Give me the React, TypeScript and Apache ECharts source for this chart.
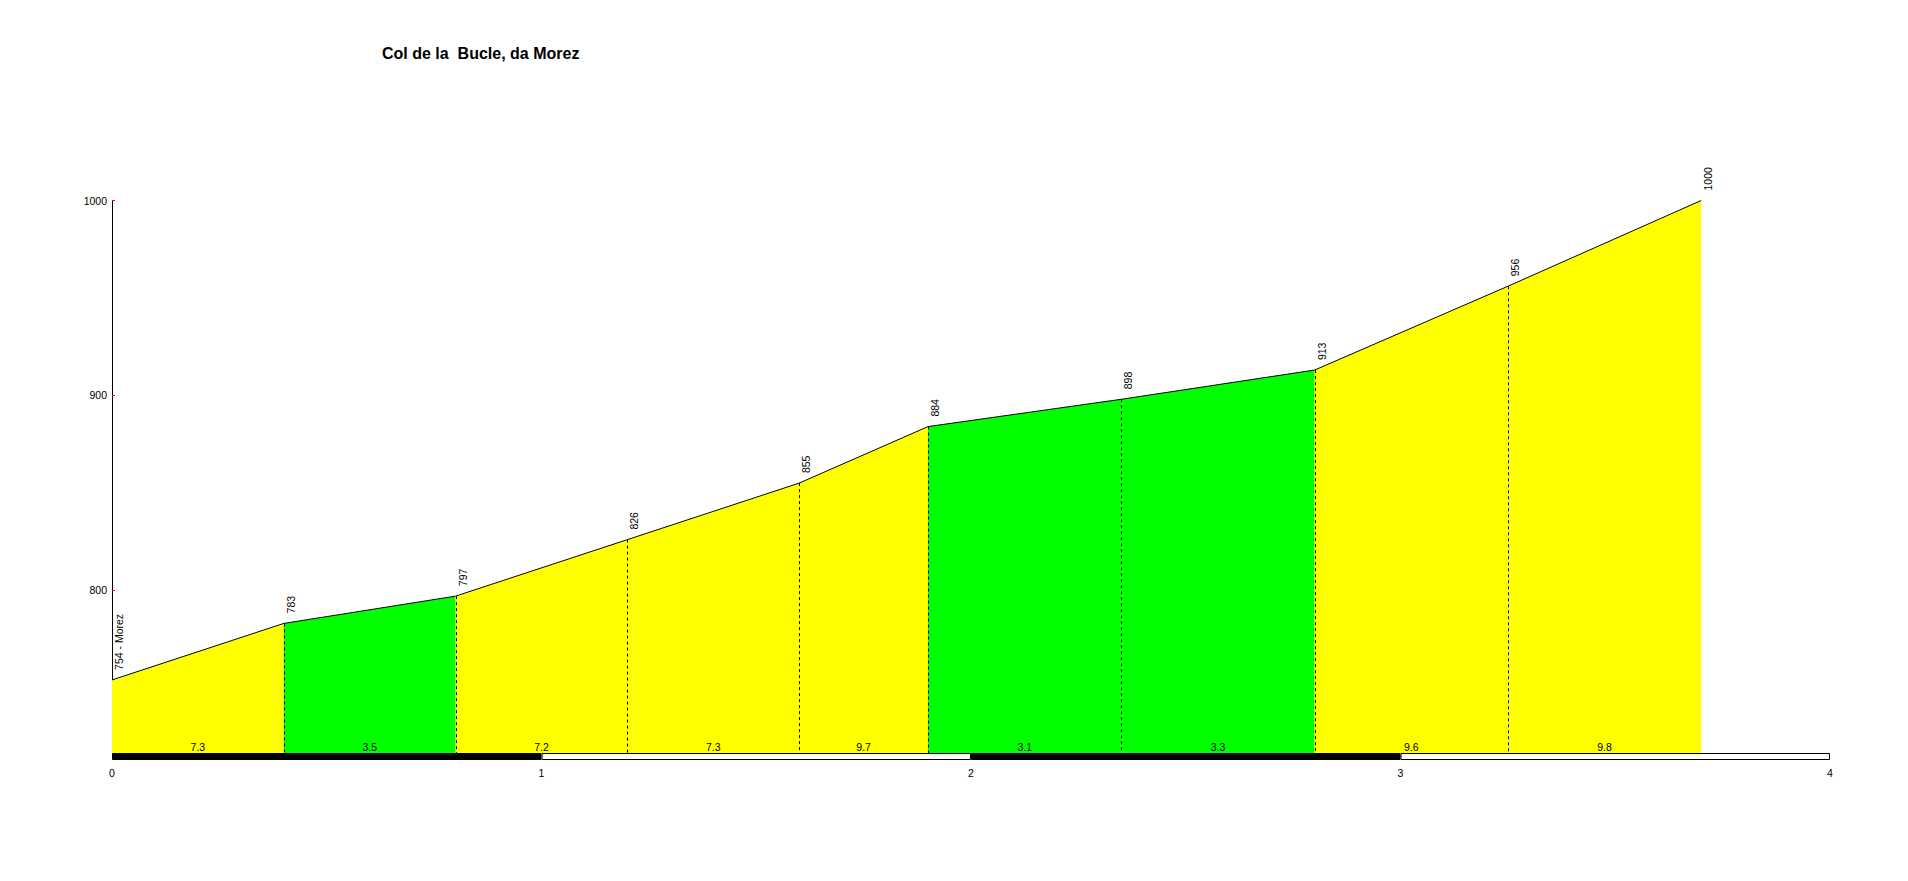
import React, { useEffect, useRef } from 'react';
import * as echarts from 'echarts';

const TITLE = 'Col de la  Bucle, da Morez';
const START_NAME = 'Morez';
const distances = [0, 0.4, 0.8, 1.2, 1.6, 1.9, 2.35, 2.8, 3.25, 3.7];
const altitudes = [754, 783, 797, 826, 855, 884, 898, 913, 956, 1000];
const gradients = ['7.3', '3.5', '7.2', '7.3', '9.7', '3.1', '3.3', '9.6', '9.8'];
const segmentColors = ['#ffff00', '#00ff00', '#ffff00', '#ffff00', '#ffff00', '#00ff00', '#00ff00', '#ffff00', '#ffff00'];
const xTickLabels = [0, 1, 2, 3, 4];
const yTickValues = [800, 900, 1000];
const kmBarColors = ['#000000', '#ffffff', '#000000', '#ffffff'];
const Y_MIN = 716;
const Y_MAX = 1000;

const FONT = 'Arial, "Liberation Sans", sans-serif';

export default function App() {
  const ref = useRef<HTMLDivElement>(null);
  useEffect(() => {
    if (!ref.current) return;
    const chart = echarts.init(ref.current, undefined, { renderer: 'svg' });

    const segData = gradients.map((g, i) => [distances[i], altitudes[i], distances[i + 1], altitudes[i + 1], i]);
    const kmData = kmBarColors.map((c, i) => [xTickLabels[i], xTickLabels[i + 1], i]);
    const pointData = distances.map((d, i) => [d, altitudes[i], i]);
    const innerPoints = pointData.slice(1, pointData.length - 1);

    const option: any = {
      animation: false,
      backgroundColor: '#ffffff',
      title: {
        text: TITLE,
        left: 377,
        top: 40,
        textStyle: { fontFamily: FONT, fontSize: 16, fontWeight: 'bold', color: '#000' },
      },
      grid: { left: 112, right: 78, top: 200.5, bottom: 127, containLabel: false },
      xAxis: {
        type: 'value',
        min: 0,
        max: 4,
        interval: 1,
        axisLine: { show: false },
        axisTick: { show: false },
        splitLine: { show: false },
        axisLabel: { fontFamily: FONT, fontSize: 10.5, color: '#000', margin: 13 },
      },
      yAxis: {
        type: 'value',
        min: Y_MIN,
        max: Y_MAX,
        axisLine: { show: true, lineStyle: { color: '#000', width: 1 } },
        axisTick: { show: true, inside: true, length: 3, customValues: yTickValues, lineStyle: { color: '#ff0000' } },
        axisLabel: {
          fontFamily: FONT,
          fontSize: 10.5,
          color: '#000',
          margin: 5,
          customValues: yTickValues,
          formatter: (v: number) => String(v),
        },
        splitLine: { show: false },
      },
      series: [
        {
          type: 'custom',
          z: 1,
          clip: false,
          data: segData,
          encode: { x: [0, 2], y: [1, 3] },
          renderItem: (params: any, api: any) => {
            const i = api.value(4);
            const a = api.coord([api.value(0), api.value(1)]);
            const b = api.coord([api.value(2), api.value(3)]);
            const a0 = api.coord([api.value(0), Y_MIN]);
            const b0 = api.coord([api.value(2), Y_MIN]);
            return {
              type: 'group',
              children: [
                {
                  type: 'polygon',
                  shape: { points: [a, b, b0, a0] },
                  style: { fill: segmentColors[i], stroke: null },
                },
                {
                  type: 'text',
                  x: (a0[0] + b0[0]) / 2,
                  y: a0[1] - 7,
                  style: {
                    text: gradients[i],
                    fill: '#000',
                    font: `10.5px ${FONT}`,
                    align: 'center',
                    verticalAlign: 'middle',
                  },
                },
              ],
            };
          },
        },
        {
          type: 'custom',
          z: 2,
          clip: false,
          data: innerPoints,
          encode: { x: 0, y: 1 },
          renderItem: (params: any, api: any) => {
            const p = api.coord([api.value(0), api.value(1)]);
            const p0 = api.coord([api.value(0), Y_MIN]);
            const lx = Math.round(p[0]) + 0.5;
            return {
              type: 'line',
              shape: { x1: lx, y1: p[1], x2: lx, y2: p0[1] },
              style: { stroke: '#000', lineWidth: 1, lineDash: [3, 3] },
            };
          },
        },
        {
          type: 'line',
          z: 3,
          data: distances.map((d, i) => [d, altitudes[i]]),
          symbol: 'none',
          lineStyle: { color: '#000', width: 1 },
        },
        {
          type: 'custom',
          z: 4,
          clip: false,
          data: pointData,
          encode: { x: 0, y: 1 },
          renderItem: (params: any, api: any) => {
            const i = api.value(2);
            const p = api.coord([api.value(0), api.value(1)]);
            const txt = i === 0 ? `${altitudes[i]} - ${START_NAME}` : String(altitudes[i]);
            return {
              type: 'text',
              x: p[0] + 7,
              y: p[1] - 10,
              rotation: Math.PI / 2,
              style: {
                text: txt,
                fill: '#000',
                font: `10.5px ${FONT}`,
                align: 'left',
                verticalAlign: 'middle',
              },
            };
          },
        },
        {
          type: 'custom',
          z: 5,
          clip: false,
          data: kmData,
          encode: { x: [0, 1] },
          renderItem: (params: any, api: any) => {
            const i = api.value(2);
            const a = api.coord([api.value(0), Y_MIN]);
            const b = api.coord([api.value(1), Y_MIN]);
            return {
              type: 'rect',
              shape: { x: a[0] + 0.5, y: a[1] - 0.5, width: b[0] - a[0] - 1, height: 6 },
              style: { fill: kmBarColors[i], stroke: '#000', lineWidth: 1 },
            };
          },
        },
      ],
    };
    chart.setOption(option);
    return () => chart.dispose();
  }, []);
  return <div ref={ref} style={{ position: 'absolute', left: 0, top: 0, width: 1908, height: 881 }} />;
}
